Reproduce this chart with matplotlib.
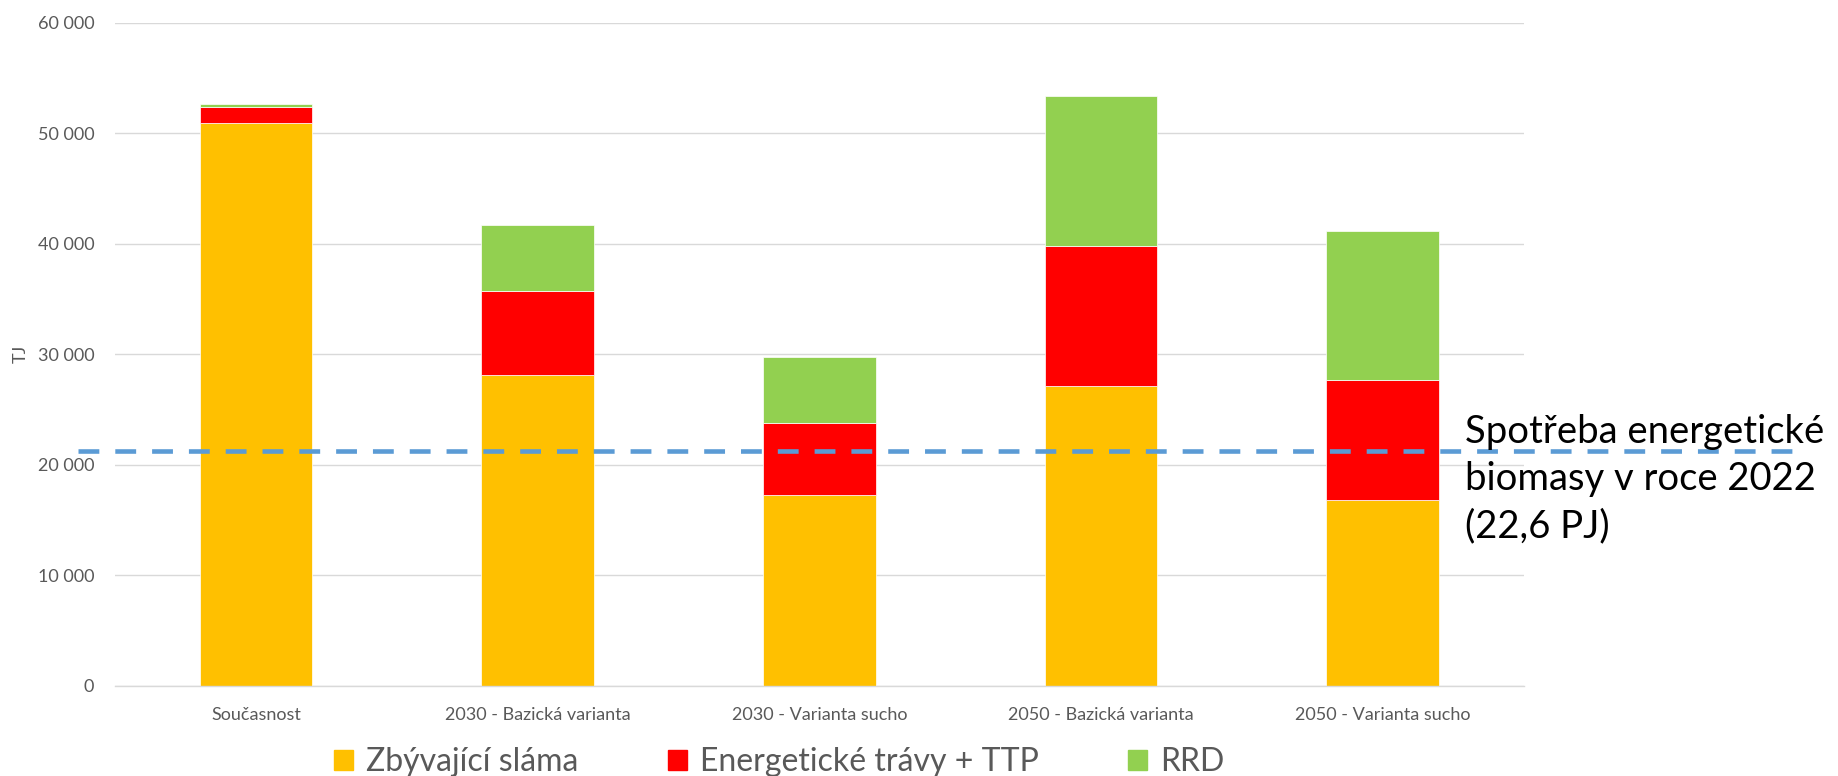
import matplotlib
matplotlib.use('Agg')
import matplotlib.pyplot as plt
from matplotlib.patches import Patch

### data ###
categories = ['Současnost', '2030 - Bazická varianta', '2030 - Varianta sucho',
              '2050 - Bazická varianta', '2050 - Varianta sucho']
slama = [50900, 28100, 17300, 27150, 16850]
travy = [1520, 7600, 6450, 12700, 10800]
rrd = [260, 6050, 6050, 13550, 13550]
series_names = ['Zbývající sláma', 'Energetické trávy + TTP', 'RRD']
spotreba_2022 = 21260
spotreba_text = 'Spotřeba energetické\nbiomasy v roce 2022\n(22,6 PJ)'
yticks = [0, 10000, 20000, 30000, 40000, 50000, 60000]

### style ###
plt.rcParams['font.family'] = ['Lato', 'DejaVu Sans']
plt.rcParams['lines.scale_dashes'] = False
c_slama = '#FFC000'
c_travy = '#FF0000'
c_rrd = '#92D050'
c_line = '#5B9BD5'
grey = '#595959'

fig = plt.figure(figsize=(18.38, 7.76), dpi=100)
ax = fig.add_axes([0.0626, 0.1164, 0.7664, 0.854])

x = list(range(len(categories)))
bw = 0.4
bot2 = slama
bot3 = [a + b for a, b in zip(slama, travy)]
ax.bar(x, slama, bw, color=c_slama, edgecolor='white', linewidth=0.5, zorder=2)
ax.bar(x, travy, bw, bottom=bot2, color=c_travy, edgecolor='white', linewidth=0.5, zorder=2)
ax.bar(x, rrd, bw, bottom=bot3, color=c_rrd, edgecolor='white', linewidth=0.5, zorder=2)

# reference consumption line, runs past the plot area
ax.plot([-0.63, 5.5], [spotreba_2022, spotreba_2022], color=c_line, linewidth=3.3,
        linestyle=(0, (15, 11.5)), clip_on=False, zorder=3)
ax.text(4.29, 18700, spotreba_text, fontsize=27.5, color='black',
        va='center', ha='left', linespacing=1.38, clip_on=False, zorder=4)

ax.set_xlim(-0.5, 4.5)
ax.set_ylim(0, 60000)
ax.set_yticks(yticks)
ax.set_yticklabels([('%d' % v) if v < 1000 else '{:,}'.format(v).replace(',', ' ') for v in yticks])
ax.set_xticks(x)
ax.set_xticklabels(categories)
ax.tick_params(axis='both', length=0, labelsize=13, labelcolor=grey)
ax.tick_params(axis='y', pad=15)
ax.tick_params(axis='x', pad=15)
ax.yaxis.grid(True, color='#D9D9D9', linewidth=1.0, zorder=0)
ax.set_axisbelow(True)
for s in ['top', 'right', 'left']:
    ax.spines[s].set_visible(False)
ax.spines['bottom'].set_color('#D9D9D9')
ax.spines['bottom'].set_linewidth(1.0)
ax.set_ylabel('TJ', fontsize=13, color=grey)
ax.yaxis.set_label_coords(-0.061, 0.5)

handles = [Patch(color=c_slama), Patch(color=c_travy), Patch(color=c_rrd)]
fig.legend(handles, series_names, loc='center', bbox_to_anchor=(0.424, 0.018),
           ncol=3, frameon=False, fontsize=23, labelcolor=grey,
           handlelength=0.6, handleheight=0.6, handletextpad=0.4, columnspacing=2.8)

plt.savefig('out.png', dpi=100)
plt.close()
